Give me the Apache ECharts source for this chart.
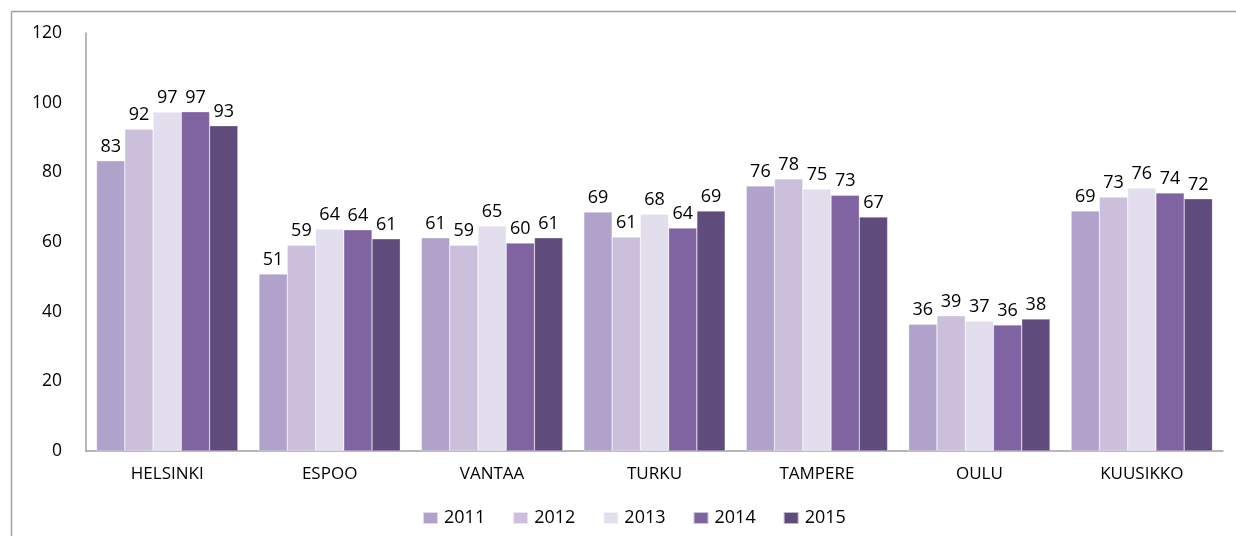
<!DOCTYPE html>
<html>
<head>
<meta charset="utf-8">
<script src="https://cdn.jsdelivr.net/npm/echarts@6/dist/echarts.min.js"></script>
<style>
  html, body { margin: 0; padding: 0; background: #fff; }
  #d { width: 1236px; height: 536px; }
</style>
</head>
<body>
<div id="d"></div>
<script>
var cities = ['HELSINKI', 'ESPOO', 'VANTAA', 'TURKU', 'TAMPERE', 'OULU', 'KUUSIKKO'];
var years = ['2011', '2012', '2013', '2014', '2015'];
var v2011 = [83.3, 50.8, 61.2, 68.6, 76.1, 36.4, 68.9];
var v2012 = [92.4, 59.1, 59.1, 61.4, 78.1, 38.8, 72.9];
var v2013 = [97.3, 63.7, 64.6, 68.0, 75.2, 37.3, 75.5];
var v2014 = [97.4, 63.5, 59.7, 64.0, 73.4, 36.2, 74.1];
var v2015 = [93.4, 60.9, 61.2, 68.9, 67.2, 37.9, 72.4];
var yTicks = [0, 20, 40, 60, 80, 100, 120];

var colors = ['#b0a2ca', '#cbbfdc', '#e2deee', '#8064a2', '#5f4b7c'];
var vals = [v2011, v2012, v2013, v2014, v2015];
var font = '"Open Sans", sans-serif';

var myChart = echarts.init(document.getElementById('d'));
var option = {
  animation: false,
  textStyle: { fontFamily: font },
  color: colors,
  grid: { left: 86, right: 13, top: 33, bottom: 85 },
  // chart frame, only left and top edges are visible in the original
  graphic: [
    { type: 'line', shape: { x1: 11.5, y1: 11.5, x2: 1236, y2: 11.5 }, style: { stroke: '#a0a0a0', lineWidth: 1.5 } },
    { type: 'line', shape: { x1: 11.5, y1: 11.5, x2: 11.5, y2: 536 }, style: { stroke: '#a0a0a0', lineWidth: 1.5 } }
  ],
  legend: {
    top: 504,
    left: 417,
    itemWidth: 15,
    itemHeight: 12,
    itemGap: 27,
    icon: 'rect',
    textStyle: { fontSize: 18, color: '#000', fontFamily: font, padding: [0, 0, 0, 1] },
    data: years
  },
  xAxis: {
    type: 'category',
    data: cities,
    axisLine: { lineStyle: { color: '#a0a0a0', width: 1.5 } },
    axisTick: { show: false },
    axisLabel: { color: '#000', fontSize: 17, margin: 15, fontFamily: font }
  },
  yAxis: {
    type: 'value',
    min: 0,
    max: 120,
    interval: 20,
    axisLine: { show: true, lineStyle: { color: '#a0a0a0', width: 1.5 } },
    axisTick: { show: false },
    splitLine: { show: false },
    axisLabel: {
      color: '#000', fontSize: 17.5, margin: 24, fontFamily: font,
      formatter: function (v) { return yTicks.indexOf(v) >= 0 ? String(v) : ''; }
    }
  },
  series: []
};

for (var i = 0; i < years.length; i++) {
  option.series.push({
    name: years[i],
    type: 'bar',
    data: vals[i],
    barGap: '0%',
    barCategoryGap: '13%',
    itemStyle: { color: colors[i], borderColor: 'rgba(255,255,255,0.6)', borderWidth: 0.5 },
    label: {
      show: true,
      position: 'top',
      distance: 5,
      color: '#000',
      fontSize: 18,
      fontFamily: font,
      formatter: function (p) { return Math.round(p.value); }
    }
  });
}

myChart.setOption(option);
</script>
</body>
</html>
